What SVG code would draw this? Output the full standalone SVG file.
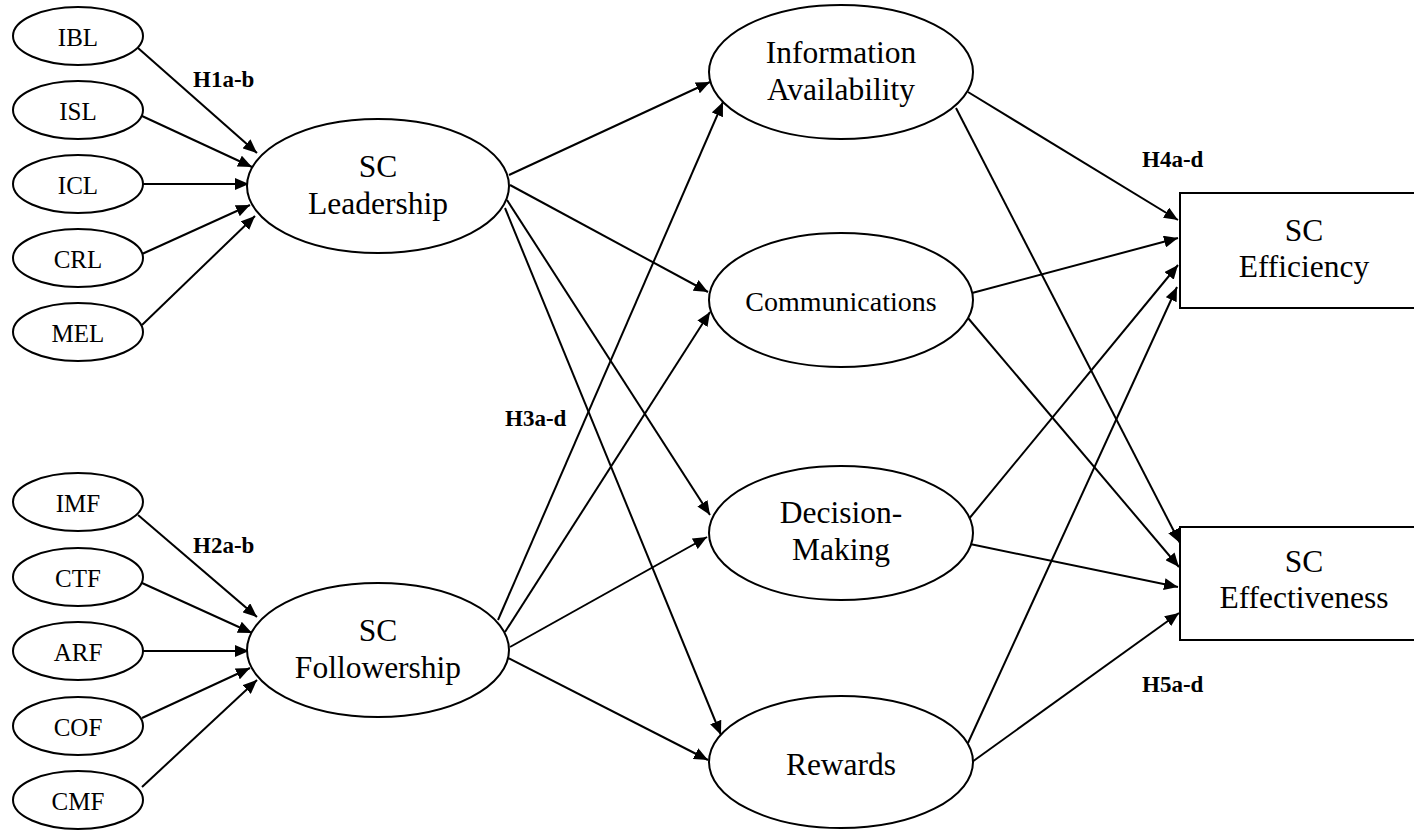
<svg xmlns="http://www.w3.org/2000/svg" width="1414" height="830" viewBox="0 0 1414 830">
<defs>
<marker id="ah" markerUnits="userSpaceOnUse" markerWidth="14" markerHeight="12" refX="14" refY="6" orient="auto">
<path d="M0,0 L14,6 L0,12 z" fill="#000"/>
</marker>
<style>
.n{fill:#fff;stroke:#000;stroke-width:2}
.t{font-family:"Liberation Serif","Times New Roman",serif;fill:#000;text-anchor:middle}
.s{font-size:25px}
.b{font-size:31.5px}
.c{font-size:28px}
.h{font-family:"Liberation Serif","Times New Roman",serif;font-weight:bold;font-size:23px;fill:#000}
#edges line{stroke:#000;stroke-width:2;marker-end:url(#ah)}
</style>
</defs>
<rect width="1414" height="830" fill="#fff"/>
<g id="edges">
<line x1="138" y1="48" x2="257" y2="153"/>
<line x1="142" y1="116" x2="252" y2="167"/>
<line x1="143" y1="184" x2="249" y2="184"/>
<line x1="142" y1="254" x2="250" y2="205"/>
<line x1="142" y1="325" x2="255" y2="216"/>
<line x1="138" y1="515" x2="257" y2="617"/>
<line x1="142" y1="583" x2="252" y2="633"/>
<line x1="143" y1="651" x2="249" y2="651"/>
<line x1="142" y1="718" x2="250" y2="668"/>
<line x1="142" y1="787" x2="257" y2="680"/>
<line x1="509" y1="175" x2="710" y2="82"/>
<line x1="510" y1="185" x2="708" y2="292"/>
<line x1="507" y1="200" x2="710" y2="515"/>
<line x1="505" y1="208" x2="721" y2="735"/>
<line x1="498" y1="620" x2="723" y2="102"/>
<line x1="505" y1="632" x2="710" y2="312"/>
<line x1="510" y1="647" x2="707" y2="537"/>
<line x1="508" y1="658" x2="708" y2="760"/>
<line x1="968" y1="92" x2="1178" y2="220"/>
<line x1="956" y1="108" x2="1180" y2="543"/>
<line x1="972" y1="293" x2="1178" y2="238"/>
<line x1="968" y1="318" x2="1179" y2="567"/>
<line x1="968" y1="520" x2="1178" y2="265"/>
<line x1="970" y1="544" x2="1178" y2="587"/>
<line x1="968" y1="743" x2="1177" y2="287"/>
<line x1="972" y1="762" x2="1179" y2="613"/>
</g>
<g id="IBL"><ellipse class="n" cx="78" cy="36" rx="65" ry="29"/><text class="t s" x="78" y="46">IBL</text></g>
<g id="ISL"><ellipse class="n" cx="78" cy="110" rx="65" ry="29"/><text class="t s" x="78" y="120">ISL</text></g>
<g id="ICL"><ellipse class="n" cx="78" cy="184" rx="65" ry="29"/><text class="t s" x="78" y="194">ICL</text></g>
<g id="CRL"><ellipse class="n" cx="78" cy="258" rx="65" ry="29"/><text class="t s" x="78" y="268">CRL</text></g>
<g id="MEL"><ellipse class="n" cx="78" cy="332" rx="65" ry="29"/><text class="t s" x="78" y="342">MEL</text></g>
<g id="IMF"><ellipse class="n" cx="78" cy="502" rx="65" ry="29"/><text class="t s" x="78" y="512">IMF</text></g>
<g id="CTF"><ellipse class="n" cx="78" cy="577" rx="65" ry="29"/><text class="t s" x="78" y="587">CTF</text></g>
<g id="ARF"><ellipse class="n" cx="78" cy="651" rx="65" ry="29"/><text class="t s" x="78" y="661">ARF</text></g>
<g id="COF"><ellipse class="n" cx="78" cy="726" rx="65" ry="29"/><text class="t s" x="78" y="736">COF</text></g>
<g id="CMF"><ellipse class="n" cx="78" cy="800" rx="65" ry="29"/><text class="t s" x="78" y="810">CMF</text></g>
<g id="leadership"><ellipse class="n" cx="378" cy="186" rx="131" ry="67"/><text class="t b" x="378" y="177">SC</text><text class="t b" x="378" y="214">Leadership</text></g>
<g id="followership"><ellipse class="n" cx="378" cy="650" rx="131" ry="67"/><text class="t b" x="378" y="641">SC</text><text class="t b" x="378" y="678">Followership</text></g>
<g id="info"><ellipse class="n" cx="841" cy="72" rx="132" ry="67"/><text class="t b" x="841" y="63">Information</text><text class="t b" x="841" y="100">Availability</text></g>
<g id="comm"><ellipse class="n" cx="841" cy="300" rx="132" ry="67"/><text class="t c" x="841" y="311">Communications</text></g>
<g id="decision"><ellipse class="n" cx="841" cy="533" rx="132" ry="67"/><text class="t b" x="841" y="523">Decision-</text><text class="t b" x="841" y="560">Making</text></g>
<g id="rewards"><ellipse class="n" cx="841" cy="762" rx="132" ry="66"/><text class="t b" x="841" y="775">Rewards</text></g>
<g id="efficiency"><rect class="n" x="1180" y="193" width="250" height="115"/><text class="t b" x="1304" y="241">SC</text><text class="t b" x="1304" y="277">Efficiency</text></g>
<g id="effectiveness"><rect class="n" x="1180" y="527" width="250" height="113"/><text class="t b" x="1304" y="572">SC</text><text class="t b" x="1304" y="608">Effectiveness</text></g>
<g id="labels">
<text class="h" x="193" y="87">H1a-b</text>
<text class="h" x="193" y="553">H2a-b</text>
<text class="h" x="505" y="426">H3a-d</text>
<text class="h" x="1142" y="167">H4a-d</text>
<text class="h" x="1142" y="692">H5a-d</text>
</g>
</svg>
